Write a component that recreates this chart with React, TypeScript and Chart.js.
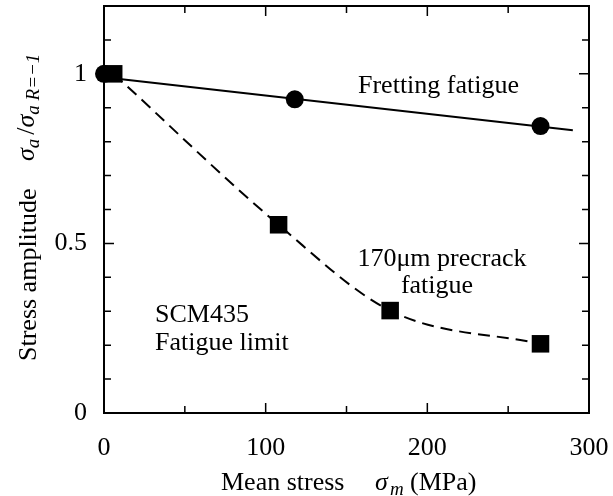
import React, { useEffect, useRef } from "react";
import { Chart, registerables } from "chart.js";

Chart.register(...registerables);

const frettingPoints = [
  { x: 0, y: 1.0 },
  { x: 118, y: 0.925 },
  { x: 270, y: 0.846 },
];
const frettingFit = [
  { x: 0, y: 0.99 },
  { x: 290, y: 0.834 },
];
const precrackPoints = [
  { x: 6, y: 1.0 },
  { x: 108, y: 0.555 },
  { x: 177, y: 0.302 },
  { x: 270, y: 0.204 },
];
const precrackCurve = [
  { x: 6, y: 1.0 },
  { x: 108, y: 0.555 },
  { x: 177, y: 0.302 },
  { x: 270, y: 0.204 },
];
const xMajorTicks = [0, 100, 200, 300];
const yMajorTicks = [0, 0.5, 1];

const FONT = "'Liberation Serif', 'Times New Roman', serif";
const FS = 26;

const framePlugin = {
  id: "frame",
  afterDraw(chart: any) {
    const { ctx, chartArea: a, scales } = chart;
    const xs = scales.x;
    const ys = scales.y;
    ctx.save();
    ctx.strokeStyle = "#000";
    ctx.lineWidth = 2;
    ctx.strokeRect(a.left, a.top, a.right - a.left, a.bottom - a.top);
    ctx.lineWidth = 1.5;
    for (let v = 0; v <= 300; v += 50) {
      const px = xs.getPixelForValue(v);
      const len = v % 100 === 0 ? 10 : 7;
      ctx.beginPath();
      ctx.moveTo(px, a.bottom);
      ctx.lineTo(px, a.bottom - len);
      ctx.moveTo(px, a.top);
      ctx.lineTo(px, a.top + len);
      ctx.stroke();
    }
    for (let i = 0; i <= 12; i++) {
      const v = i / 10;
      const py = ys.getPixelForValue(v);
      const len = i % 5 === 0 ? 10 : 7;
      ctx.beginPath();
      ctx.moveTo(a.left, py);
      ctx.lineTo(a.left + len, py);
      ctx.moveTo(a.right, py);
      ctx.lineTo(a.right - len, py);
      ctx.stroke();
    }
    ctx.fillStyle = "#000";
    ctx.textBaseline = "alphabetic";
    ctx.font = `${FS}px ${FONT}`;
    ctx.textAlign = "left";
    ctx.fillText("Fretting fatigue", 358, 93);
    ctx.textAlign = "center";
    ctx.fillText("170\u03bcm precrack", 442, 266);
    ctx.fillText("fatigue", 437, 293);
    ctx.textAlign = "left";
    ctx.fillText("SCM435", 155, 322);
    ctx.fillText("Fatigue limit", 155, 350);

    const xb = 490;
    ctx.fillText("Mean stress", 221, xb);
    ctx.font = `italic ${FS}px ${FONT}`;
    ctx.fillText("\u03c3", 375, xb);
    ctx.font = `italic ${Math.round(FS * 0.72)}px ${FONT}`;
    ctx.fillText("m", 390, xb + 5);
    ctx.font = `${FS}px ${FONT}`;
    ctx.fillText("(MPa)", 410, xb);

    ctx.save();
    ctx.translate(36, 361);
    ctx.rotate(-Math.PI / 2);
    ctx.textAlign = "left";
    ctx.font = `${FS}px ${FONT}`;
    ctx.fillText("Stress amplitude", 0, 0);
    let cx = 200;
    ctx.font = `italic ${FS}px ${FONT}`;
    ctx.fillText("\u03c3", cx, -2);
    cx += ctx.measureText("\u03c3").width;
    ctx.font = `italic ${Math.round(FS * 0.72)}px ${FONT}`;
    ctx.fillText("a", cx, 3);
    cx += ctx.measureText("a").width + 4;
    ctx.font = `${FS}px ${FONT}`;
    ctx.fillText("/", cx, -2);
    cx += ctx.measureText("/").width;
    ctx.font = `italic ${FS}px ${FONT}`;
    ctx.fillText("\u03c3", cx, -2);
    cx += ctx.measureText("\u03c3").width;
    ctx.font = `italic ${Math.round(FS * 0.72)}px ${FONT}`;
    ctx.fillText("a R=\u22121", cx, 3);
    ctx.restore();
    ctx.restore();
  },
};

export default function App() {
  const ref = useRef<HTMLCanvasElement | null>(null);
  useEffect(() => {
    if (!ref.current) return;
    const chart = new Chart(ref.current, {
      type: "scatter",
      data: {
        datasets: [
          { type: "line", data: frettingFit, borderColor: "#000", borderWidth: 2, pointRadius: 0, fill: false, clip: false },
          { type: "line", data: precrackCurve, borderColor: "#000", borderWidth: 2, borderDash: [12, 7], pointRadius: 0, cubicInterpolationMode: "monotone", fill: false, clip: false },
          { data: frettingPoints, pointStyle: "circle", pointRadius: 9, backgroundColor: "#000", borderColor: "#000", borderWidth: 0, clip: false },
          { data: precrackPoints, pointStyle: "rect", pointRadius: 12.4, backgroundColor: "#000", borderColor: "#000", borderWidth: 0, clip: false },
        ] as any,
      },
      options: {
        animation: false,
        responsive: false,
        devicePixelRatio: 1,
        layout: { autoPadding: false, padding: { top: 6, right: 24, left: 0, bottom: 0 } },
        plugins: { legend: { display: false }, tooltip: { enabled: false } },
        scales: {
          x: {
            type: "linear", min: 0, max: 300,
            afterFit: (s: any) => { s.height = 83; s.paddingLeft = 0; s.paddingRight = 0; s.paddingTop = 0; s.paddingBottom = 0; },
            afterBuildTicks: (s: any) => { s.ticks = xMajorTicks.map((v) => ({ value: v })); },
            grid: { display: false, drawTicks: false },
            border: { display: false },
            ticks: { padding: 20, color: "#000", font: { family: FONT, size: FS } },
          },
          y: {
            type: "linear", min: 0, max: 1.2,
            afterFit: (s: any) => { s.width = 104; s.paddingLeft = 0; s.paddingRight = 0; s.paddingTop = 0; s.paddingBottom = 0; },
            afterBuildTicks: (s: any) => { s.ticks = yMajorTicks.map((v) => ({ value: v })); },
            grid: { display: false, drawTicks: false },
            border: { display: false },
            ticks: { padding: 17, color: "#000", font: { family: FONT, size: FS }, callback: (v: any) => String(v) },
          },
        },
      },
      plugins: [framePlugin],
    });
    return () => chart.destroy();
  }, []);
  return (
    <div style={{ position: "absolute", left: 0, top: 0, width: 613, height: 496, background: "#fff" }}>
      <canvas ref={ref} width={613} height={496} />
    </div>
  );
}
